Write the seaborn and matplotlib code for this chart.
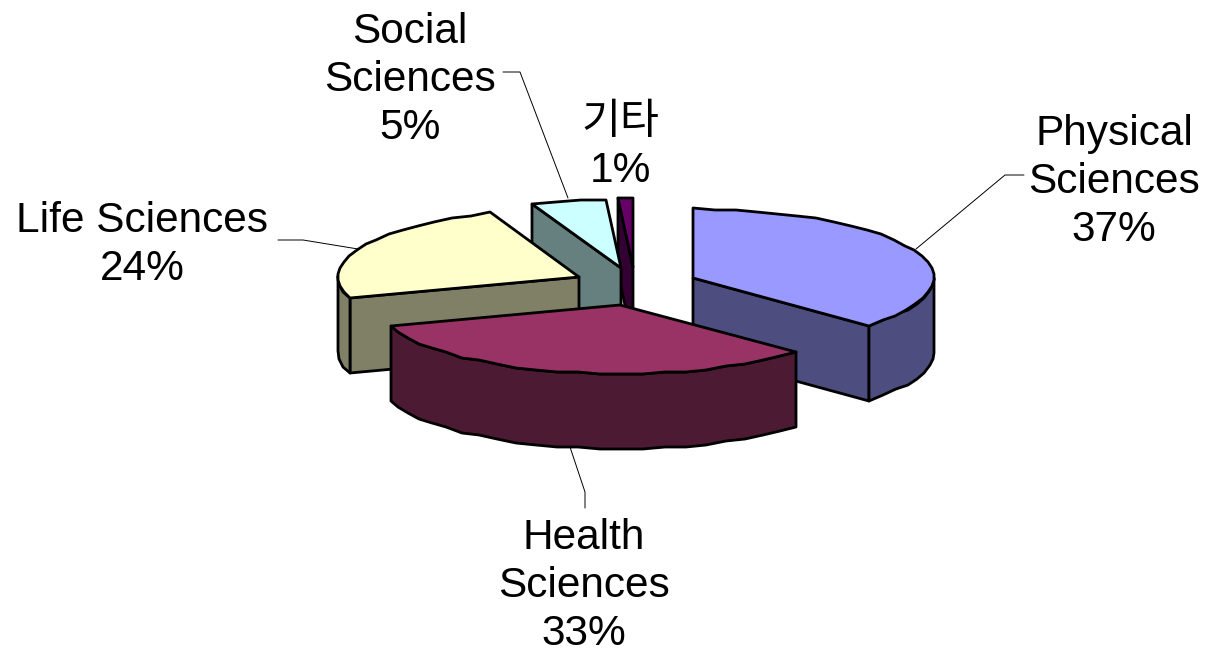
# -*- coding: utf-8 -*-
import numpy as np
import matplotlib
matplotlib.use("Agg")
import matplotlib.pyplot as plt
import seaborn as sns

# chart data
slices = ["Physical\nSciences", "Health\nSciences", "Life Sciences", "Social\nSciences", "기타"]
shares = [37, 33, 24, 5, 1]
top_colors = ["#9999FF", "#993366", "#FFFFCC", "#CCFFFF", "#660066"]
side_colors = ["#4D4D80", "#4D1A33", "#808066", "#668080", "#330033"]

# layout, in pixels of the 1205x653 picture
centers = [(693, 278), (620, 305), (579, 277), (621, 268), (633, 267)]
label_pos = [(1114, 182), (584, 586), (142, 245), (410, 80), (620, 147)]
leaders = [
    [(916, 249), (1005, 175), (1024, 175)],
    [(570, 447), (585, 492), (585, 508)],
    [(358, 249), (303, 240), (278, 240)],
    [(568, 198), (520, 72), (503, 72)],
]
RX, RY, DEPTH = 241, 69, 75
EDGE = 2.0
draw_order = [4, 3, 2, 0, 1]

sns.set_theme(style = "white")
plt.rcParams["font.family"] = ["Liberation Sans", "Noto Sans CJK KR", "DejaVu Sans"]


def rim(center, a0, a1):
    # outer edge of a slice, angles clockwise from north in degrees
    n = max(int(abs(a1 - a0) / 5), 1) + 1
    ang = np.radians(np.linspace(a0, a1, n))
    x = center[0] + RX * np.sin(ang)
    y = center[1] - RY * np.cos(ang)
    return np.round(x), np.round(y / 2) * 2


def draw_slice(ax, center, a0, a1, top, side):
    cx, cy = center
    poly = dict(edgecolor = "black", linewidth = EDGE, joinstyle = "round")

    def radial_face(a):
        x, y = rim(center, a, a)
        x, y = x[-1], y[-1]
        ax.fill([cx, x, x, cx], [cy, y, y + DEPTH, cy + DEPTH], facecolor = side, **poly)

    # cut faces turned to the viewer
    if np.sin(np.radians(a0)) < 0:
        radial_face(a0)
    if np.sin(np.radians(a1)) > 0:
        radial_face(a1)
    # outer wall, only the front half of the rim shows
    lo, hi = max(a0, 90), min(a1, 270)
    if lo < hi:
        x, y = rim(center, lo, hi)
        ax.fill(np.r_[x, x[::-1]], np.r_[y, y[::-1] + DEPTH], facecolor = side, **poly)
    # top surface
    x, y = rim(center, a0, a1)
    ax.fill(np.r_[cx, x], np.r_[cy, y], facecolor = top, **poly)


fig, ax = plt.subplots(figsize = (12.05, 6.53), dpi = 100)
fig.subplots_adjust(0, 0, 1, 1)
ax.set_xlim(0, 1205)
ax.set_ylim(653, 0)
ax.axis("off")

edges = np.cumsum([0] + shares) / sum(shares) * 360
for i in draw_order:
    draw_slice(ax, centers[i], edges[i], edges[i + 1], top_colors[i], side_colors[i])

for pts in leaders:
    ax.plot(*zip(*pts), color = "black", linewidth = 0.7)

for name, share, pos in zip(slices, shares, label_pos):
    ax.text(pos[0], pos[1], f"{name}\n{share}%", ha = "center", va = "center",
            fontsize = 30.5, linespacing = 1.25, color = "black")

fig.savefig("out.png", dpi = 100, facecolor = "white")
